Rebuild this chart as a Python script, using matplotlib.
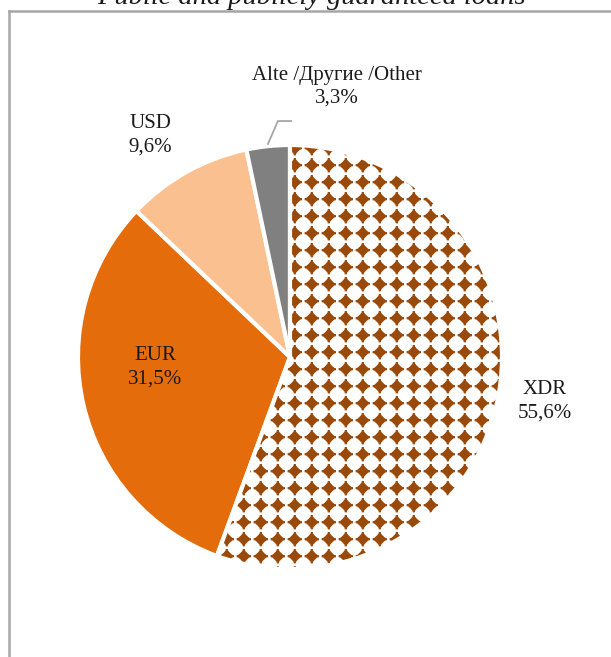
import numpy as np
import matplotlib.pyplot as plt
from matplotlib.lines import Line2D
from matplotlib.path import Path
from matplotlib.patches import PathPatch

# data
labels = ['XDR', 'EUR', 'USD', 'Alte /Другие /Other']
shares = [55.6, 31.5, 9.6, 3.3]
pct_text = ['55,6%', '31,5%', '9,6%', '3,3%']
colors = ['white', '#E46C0A', '#FAC090', '#808080']

plt.rcParams['font.family'] = ['Liberation Serif', 'DejaVu Serif']

W, H = 611, 657
fig = plt.figure(figsize=(W / 100, H / 100), dpi=100)

# pie geometry in pixels
cx, cy, r = 290, 357, 212
ax = fig.add_axes([(cx - r) / W, (H - cy - r) / H, 2 * r / W, 2 * r / H])

wedges, _ = ax.pie(shares, colors=colors, startangle=90, counterclock=False,
                   radius=1, wedgeprops=dict(edgecolor='white', linewidth=3))
ax.set_xlim(-1, 1)
ax.set_ylim(-1, 1)
ax.axis('off')

# dotted fill pattern for the XDR slice (fat diamond with short arms, in px)
cell = np.array([(-1, 7.2), (1, 7.2), (1.3, 5.5), (3.3, 3.3), (5.5, 1.3), (7.2, 1),
                 (7.2, -1), (5.5, -1.3), (3.3, -3.3), (1.3, -5.5), (1, -7.2),
                 (-1, -7.2), (-1.3, -5.5), (-3.3, -3.3), (-5.5, -1.3), (-7.2, -1),
                 (-7.2, 1), (-5.5, 1.3), (-3.3, 3.3), (-1.3, 5.5), (-1, 7.2)]) / r
step = 17 / r
g = np.arange(-1.1, 1.1, step)
shapes = [Path(cell + (x, y), closed=True) for x in g for y in g]
pattern = PathPatch(Path.make_compound_path(*shapes), facecolor='#994A0A',
                    edgecolor='none', zorder=2)
ax.add_patch(pattern)
pattern.set_clip_path(wedges[0])
wedges[0].set_facecolor('none')
wedges[0].set_zorder(3)

# labels
pos = [(1.203, -0.21), (-0.637, -0.047), (-0.66, 1.047), (0.222, 1.274)]
for lab, pt, (x, y) in zip(labels, pct_text, pos):
    ax.text(x, y, lab + '\n' + pt, ha='center', va='center', fontsize=15,
            linespacing=1.3, color='#1a1a1a', clip_on=False, zorder=6)

# leader line for Other
ax.add_line(Line2D([-0.104, -0.057, 0.005], [1.005, 1.113, 1.113], color='#A6A6A6',
                   lw=1.3, clip_on=False))

# frame lines
fig.add_artist(Line2D([9 / W, 1], [1 - 11 / H, 1 - 11 / H], transform=fig.transFigure,
                      color='#A6A6A6', lw=1.8))
fig.add_artist(Line2D([9 / W, 9 / W], [0, 1 - 11 / H], transform=fig.transFigure,
                      color='#A6A6A6', lw=1.8))

# title, cut off at the top as in the source
fig.text(311 / W, 1 - 4 / H, 'Public and publicly guaranteed loans', ha='center',
         va='baseline', fontsize=20.5, style='italic', color='#1a1a1a')

fig.savefig('out.png', dpi=100)
